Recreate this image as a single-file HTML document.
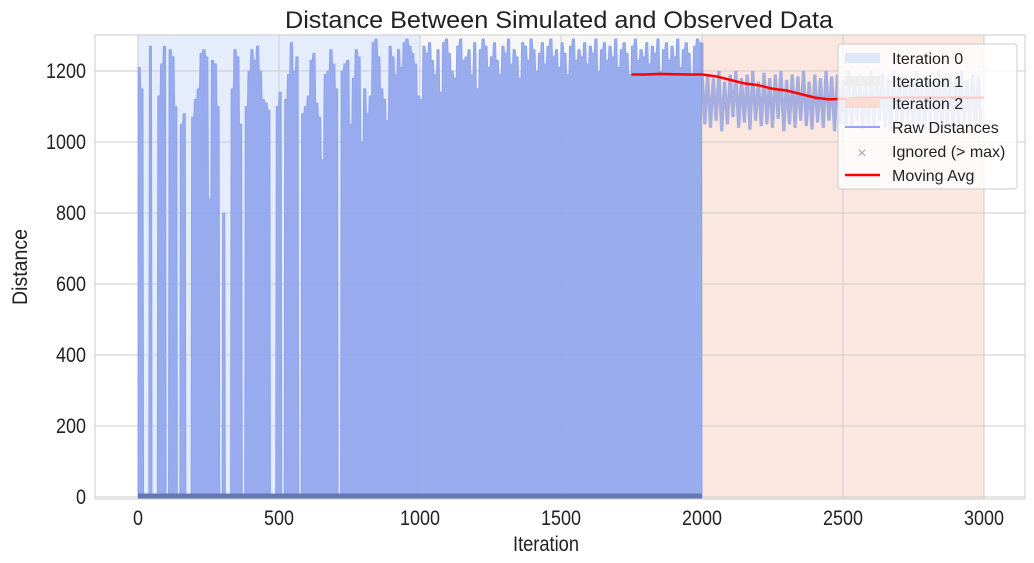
<!DOCTYPE html>
<html><head><meta charset="utf-8"><style>
html,body{margin:0;padding:0;background:#fff;}
svg{display:block;font-family:"Liberation Sans",Arial,sans-serif;}
</style></head><body>
<svg id="chart" width="1034" height="563" viewBox="0 0 1034 563">
<text x="559" y="28" font-size="24" textLength="548" lengthAdjust="spacingAndGlyphs" text-anchor="middle" fill="#222">Distance Between Simulated and Observed Data</text>
<g id="spans"></g><g id="grid"></g><g id="series"></g><g id="axes"></g>
<text x="546" y="551" font-size="21" textLength="66" lengthAdjust="spacingAndGlyphs" text-anchor="middle" fill="#222">Iteration</text>
<text x="27" y="267" font-size="21" textLength="76" lengthAdjust="spacingAndGlyphs" text-anchor="middle" fill="#222" transform="rotate(-90 27 267)">Distance</text>
<g>
<rect x="838" y="44" width="179" height="145" rx="3" fill="#fff" fill-opacity="0.8" stroke="#ccc"/>
<rect x="845" y="53" width="35" height="10" fill="#dfe6fa"/>
<text x="892" y="64" font-size="16" fill="#222">Iteration 0</text>
<rect x="845" y="76" width="35" height="10" fill="#eeeeee"/>
<text x="892" y="87" font-size="16" fill="#222">Iteration 1</text>
<rect x="845" y="98" width="35" height="10" fill="#f9ddd3"/>
<text x="892" y="109" font-size="16" fill="#222">Iteration 2</text>
<line x1="845" y1="127" x2="880" y2="127" stroke="#8fa6ee" stroke-width="2"/>
<text x="892" y="133" font-size="16" fill="#222">Raw Distances</text>
<text x="862" y="158" font-size="16" fill="#aaa" text-anchor="middle">×</text>
<text x="892" y="157" font-size="16" fill="#222">Ignored (&gt; max)</text>
<line x1="845" y1="175" x2="880" y2="175" stroke="red" stroke-width="2.5"/>
<text x="892" y="181" font-size="16" fill="#222">Moving Avg</text>
</g>
</svg>
<script>
const iter0 = [1210,1150,0,0,1270,0,0,1130,1220,1270,0,1260,1240,1100,0,1050,1080,0,0,1070,1120,1150,1250,1260,1240,840,1230,1220,1100,0,800,0,0,1150,1260,1240,1050,0,1100,1200,1260,1230,1270,1200,1120,1110,1090,0,0,1100,1140,0,1120,1190,1280,1200,1240,0,1080,1100,1130,1230,1250,1110,1070,950,1190,1200,1260,1220,1150,0,1200,1220,1230,1050,1180,1260,1240,1000,1150,1080,1130,1280,1290,1240,1150,1120,1060,1270,1240,1190,1260,1210,1280,1290,1270,1250,1220,1130];
const iter1 = [1120,1270,1250,1280,1230,1190,1260,1140,1280,1290,1250,1200,1180,1270,1290,1230,1240,1260,1190,1280,1150,1260,1290,1270,1210,1240,1280,1230,1190,1270,1250,1290,1220,1260,1240,1180,1280,1270,1230,1290,1260,1200,1250,1280,1220,1270,1290,1240,1260,1210,1280,1250,1190,1270,1290,1230,1260,1240,1280,1220,1270,1250,1290,1200,1260,1280,1230,1270,1240,1290,1210,1260,1280,1250,1190,1270,1290,1230,1260,1240,1280,1220,1270,1250,1290,1200,1260,1280,1230,1270,1240,1290,1210,1260,1280,1250,1190,1270,1290,1280];
const iter2 = [1200,1050,1190,1040,1180,1060,1200,1030,1170,1050,1190,1070,1200,1040,1180,1055,1190,1035,1200,1060,1170,1045,1195,1050,1180,1040,1190,1065,1200,1030,1175,1050,1190,1040,1185,1060,1200,1045,1170,1035,1190,1055,1180,1040,1200,1060,1185,1030,1190,1050,1175,1045,1200,1040,1180,1060,1190,1035,1170,1050,1200,1045,1185,1060,1190,1040,1180,1030,1200,1055,1175,1045,1190,1060,1185,1040,1200,1050,1180,1035,1190,1060,1170,1045,1200,1040,1185,1055,1190,1030,1180,1050,1200,1045,1175,1060,1190,1040,1185,1050];
const avgX = [1750,1800,1850,1900,1950,2000,2050,2100,2150,2200,2250,2300,2350,2400,2450,2500,2550,2600,2650,2700,2750,2800,2850,2900,2950,3000];
const avgY = [1190,1190,1192,1191,1190,1190,1185,1175,1165,1160,1150,1145,1135,1125,1120,1122,1124,1125,1125,1125,1125,1125,1125,1125,1125,1125];
const xTicks = [0,500,1000,1500,2000,2500,3000];
const yTicks = [0,200,400,600,800,1000,1200];
const step = 10;

const X = v => 138 + v * 0.282;
const Y = v => 497 - v * 0.355;
const NS = "http://www.w3.org/2000/svg";
function mk(tag, attrs, parent){const e=document.createElementNS(NS,tag);for(const k in attrs)e.setAttribute(k,attrs[k]);parent.appendChild(e);return e;}
const spans=document.getElementById('spans'),grid=document.getElementById('grid'),series=document.getElementById('series'),axes=document.getElementById('axes');

let r=mk('rect',{x:X(0),y:35,width:X(1000)-X(0),height:464,fill:'#e5ecfb'},spans);


r=mk('rect',{x:X(1000),y:35,width:X(2000)-X(1000),height:464,fill:'#f7f7f7'},spans);


r=mk('rect',{x:X(2000),y:35,width:X(3000)-X(2000),height:464,fill:'#fbe7df',stroke:'#e6c8bd'},spans);



yTicks.forEach(t=>{
  const l=mk('line',{x1:95,x2:1025,y1:Y(t),y2:Y(t),stroke:'#cccccc','stroke-width':1},grid);
  
  
  const s=String(t);
  const tx=mk('text',{x:86,y:Y(t)+7,'font-size':21,'text-anchor':'end',fill:'#222',textLength:s.length*10,lengthAdjust:'spacingAndGlyphs'},axes);
  tx.textContent=s;
  
  
});
xTicks.forEach(t=>{
  const l=mk('line',{x1:X(t),x2:X(t),y1:35,y2:499,stroke:'#cccccc','stroke-width':1},grid);
  
  
  const s=String(t);
  const tx=mk('text',{x:X(t),y:525,'font-size':21,'text-anchor':'middle',fill:'#222',textLength:s.length*10,lengthAdjust:'spacingAndGlyphs'},axes);
  tx.textContent=s;
  
  
});

const early = iter0.concat(iter1);
let d='M'+X(0)+','+Y(0);
early.forEach((v,i)=>{d+=' L'+X(i*step)+','+Y(v)+' L'+X((i+1)*step-2)+','+Y(v);});
d+=' L'+X(2000)+','+Y(0)+' Z';
const area=mk('path',{d:d,fill:'#92a8ed','fill-opacity':0.95,stroke:'#8aa2ec','stroke-width':0.8},series);



let p=[[X(2000),Y(early[early.length-1])]];
iter2.forEach((v,i)=>p.push([X(2000+i*step),Y(v)]));
const line2=mk('polyline',{points:p.map(a=>a.join(',')).join(' '),fill:'none',stroke:'#8a9be0','stroke-opacity':0.75,'stroke-width':3.2,'stroke-linejoin':'miter'},series);



const band=mk('line',{x1:X(0),x2:X(2000),y1:Y(0)-1,y2:Y(0)-1,stroke:'#6677b3','stroke-width':5},series);



const ma=mk('polyline',{points:avgX.map((x,i)=>X(x)+','+Y(avgY[i])).join(' '),fill:'none',stroke:'red','stroke-width':2.5},series);



const frame=mk('rect',{x:95,y:35,width:930,height:464,fill:'none',stroke:'#cccccc'},axes);


</script>
</body></html>
